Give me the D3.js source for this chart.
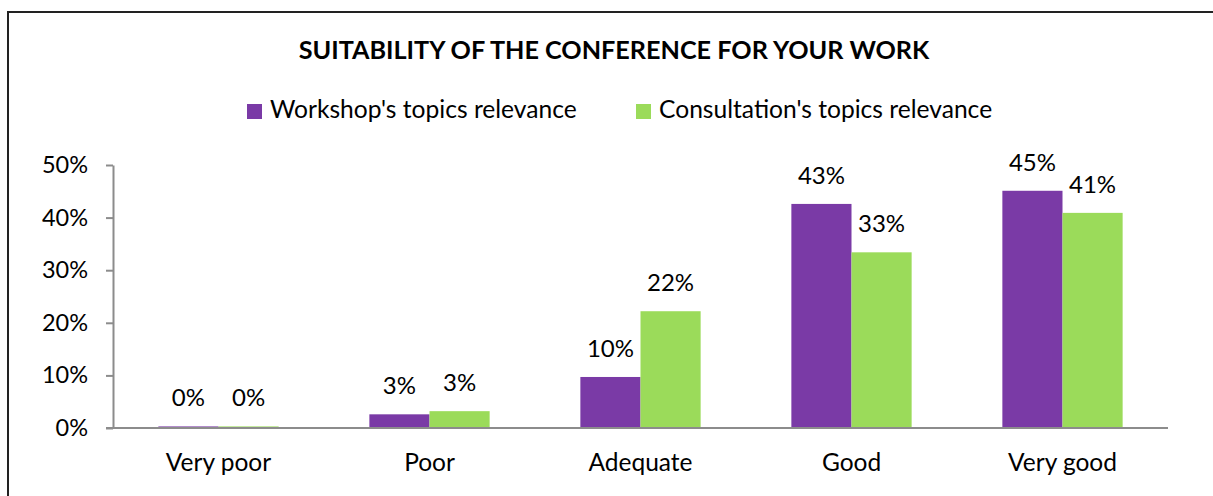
<!DOCTYPE html>
<html>
<head>
<meta charset="utf-8">
<script src="https://cdn.jsdelivr.net/npm/d3@7"></script>
<style>
  body { margin: 0; background: #fff; }
  svg { display: block; font-family: Lato, "Open Sans", sans-serif; }
</style>
</head>
<body>
<script>
// chart data
const categories = ['Very poor', 'Poor', 'Adequate', 'Good', 'Very good'];
const seriesNames = ["Workshop's topics relevance", "Consultation's topics relevance"];
const workshop = [0.003, 0.026, 0.097, 0.426, 0.451];
const consultation = [0.003, 0.032, 0.222, 0.334, 0.409];
const shownLabels = [
    ['0%', '3%', '10%', '43%', '45%'],
    ['0%', '3%', '22%', '33%', '41%']
];
const yTicks = [0, 0.1, 0.2, 0.3, 0.4, 0.5];

const colors = ['#7a3aa6', '#9bdb5a'];
const width = 1213;
const height = 496;

const svg = d3.select('body').append('svg')
    .attr('width', width)
    .attr('height', height);

// outer frame (cut off on right and bottom like the original)
svg.append('rect')
    .attr('x', 8)
    .attr('y', 12)
    .attr('width', width)
    .attr('height', height)
    .attr('fill', 'none')
    .attr('stroke', '#222')
    .attr('stroke-width', 2);

// title
svg.append('text')
    .attr('x', 614)
    .attr('y', 59)
    .attr('text-anchor', 'middle')
    .style('font-weight', 'bold')
    .style('font-size', '25.2px')
    .text('SUITABILITY OF THE CONFERENCE FOR YOUR WORK');

const x0 = d3.scaleBand()
    .domain(categories)
    .range([113, 1168])
    .paddingInner(0.43)
    .paddingOuter(0.215);

const x1 = d3.scaleBand()
    .domain([0, 1])
    .range([0, x0.bandwidth()]);

const y = d3.scaleLinear()
    .domain([0, 0.5])
    .range([428, 165]);

// legend
const legendX = [247, 636];
const legend = svg.selectAll('.legend')
    .data(seriesNames)
    .enter().append('g')
    .attr('class', 'legend')
    .attr('transform', (d, i) => 'translate(' + legendX[i] + ',104)');

legend.append('rect')
    .attr('width', 15)
    .attr('height', 15)
    .attr('fill', (d, i) => colors[i]);

legend.append('text')
    .attr('x', 23)
    .attr('y', 14)
    .style('font-size', '24.6px')
    .text(d => d);

// y axis
const yAxis = svg.append('g')
    .attr('transform', 'translate(113,0)')
    .call(d3.axisLeft(y)
        .tickValues(yTicks)
        .tickFormat(d3.format('.0%'))
        .tickSize(7)
        .tickSizeOuter(0)
        .tickPadding(18));

yAxis.selectAll('path, line').attr('stroke', '#8c8c8c').attr('stroke-width', 2);
yAxis.selectAll('text')
    .attr('fill', '#000')
    .style('font-size', '23.5px')
    .style('font-family', 'Lato, sans-serif');

// bars
const allSeries = [workshop, consultation];
allSeries.forEach((vals, s) => {
    svg.selectAll('.bar' + s)
        .data(vals)
        .enter().append('rect')
        .attr('class', 'bar' + s)
        .attr('x', (d, i) => x0(categories[i]) + x1(s))
        .attr('y', d => y(d))
        .attr('width', x1.bandwidth())
        .attr('height', d => y(0) - y(d))
        .attr('fill', colors[s]);

    svg.selectAll('.lbl' + s)
        .data(vals)
        .enter().append('text')
        .attr('class', 'lbl' + s)
        .attr('x', (d, i) => x0(categories[i]) + x1(s) + x1.bandwidth() / 2)
        .attr('y', d => y(d) - 20)
        .attr('text-anchor', 'middle')
        .style('font-size', '24px')
        .text((d, i) => shownLabels[s][i]);
});

// x axis
const xAxis = svg.append('g')
    .attr('transform', 'translate(0,428)')
    .call(d3.axisBottom(x0)
        .tickSize(0)
        .tickSizeOuter(0)
        .tickPadding(26));

xAxis.select('.domain')
    .attr('d', 'M106,0H1168')
    .attr('stroke', '#8c8c8c')
    .attr('stroke-width', 2);
xAxis.selectAll('text')
    .attr('fill', '#000')
    .style('font-size', '24.5px')
    .style('font-family', 'Lato, sans-serif');
</script>
</body>
</html>
